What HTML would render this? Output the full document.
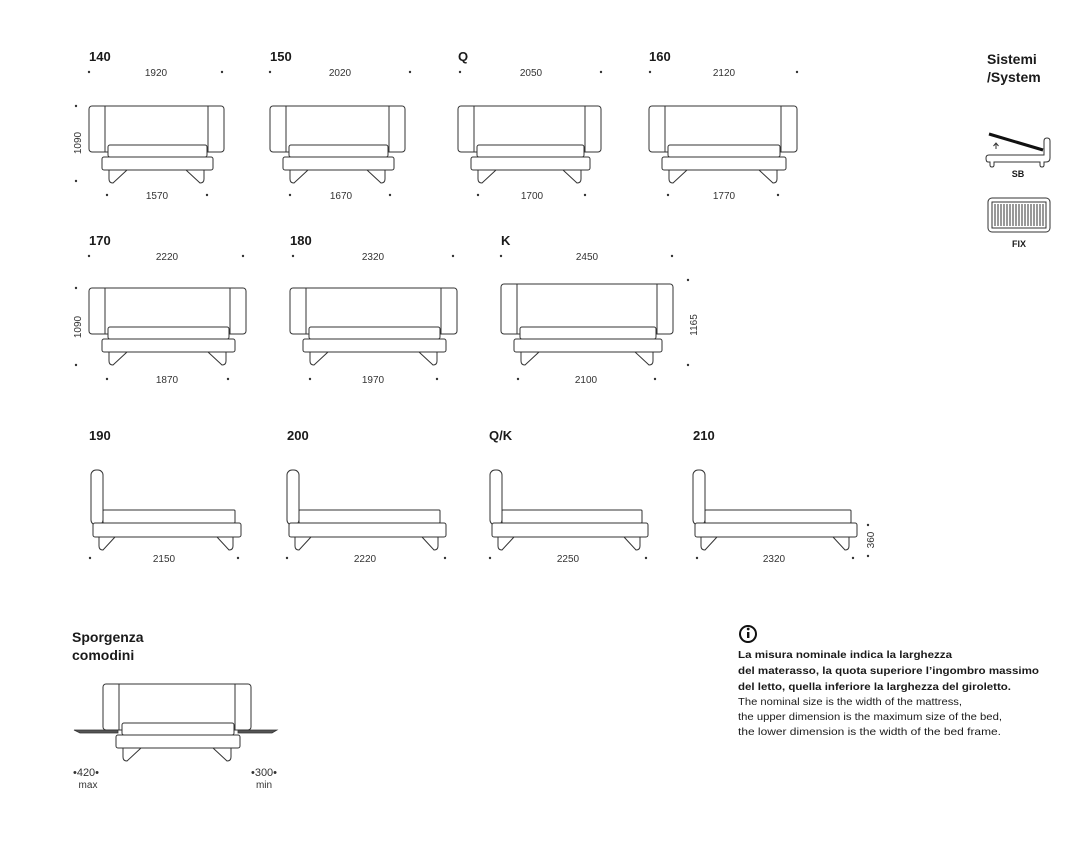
<!DOCTYPE html>
<html><head><meta charset="utf-8"><style>
body{margin:0;background:#fff}
svg{display:block}
text{font-family:"Liberation Sans",sans-serif;fill:#1a1a1a}
.t{font-weight:bold;font-size:13px}
.d{font-size:10px;fill:#333}
.b{fill:#fff;stroke:#333;stroke-width:1}
.l{fill:none;stroke:#333;stroke-width:1}
.dot{fill:#333}
</style></head><body>
<svg width="1083" height="841" viewBox="0 0 1083 841" xmlns="http://www.w3.org/2000/svg">
<!-- Row 1 -->
<text class="t" x="89" y="61">140</text>
<text class="t" x="270" y="61">150</text>
<text class="t" x="458" y="61">Q</text>
<text class="t" x="649" y="61">160</text>
<g class="dot">
<circle cx="89" cy="72" r="1.2"/><circle cx="222" cy="72" r="1.2"/>
<circle cx="270" cy="72" r="1.2"/><circle cx="410" cy="72" r="1.2"/>
<circle cx="460" cy="72" r="1.2"/><circle cx="601" cy="72" r="1.2"/>
<circle cx="650" cy="72" r="1.2"/><circle cx="797" cy="72" r="1.2"/>
<circle cx="107" cy="195" r="1.2"/><circle cx="207" cy="195" r="1.2"/>
<circle cx="290" cy="195" r="1.2"/><circle cx="390" cy="195" r="1.2"/>
<circle cx="478" cy="195" r="1.2"/><circle cx="585" cy="195" r="1.2"/>
<circle cx="668" cy="195" r="1.2"/><circle cx="778" cy="195" r="1.2"/>
<circle cx="76" cy="106" r="1.2"/><circle cx="76" cy="181" r="1.2"/>
</g>
<text class="d" x="156" y="76" text-anchor="middle">1920</text>
<text class="d" x="340" y="76" text-anchor="middle">2020</text>
<text class="d" x="531" y="76" text-anchor="middle">2050</text>
<text class="d" x="724" y="76" text-anchor="middle">2120</text>
<text class="d" x="157" y="199" text-anchor="middle">1570</text>
<text class="d" x="341" y="199" text-anchor="middle">1670</text>
<text class="d" x="532" y="199" text-anchor="middle">1700</text>
<text class="d" x="724" y="199" text-anchor="middle">1770</text>
<text class="d" transform="translate(81,143) rotate(-90)" text-anchor="middle">1090</text>

<!-- 140 -->
<rect class="b" x="89" y="106" width="135" height="46" rx="3"/><path class="l" d="M105,106V152M208,106V152"/>
<rect class="b" x="108" y="145" width="99" height="12" rx="2"/><rect class="b" x="102" y="157" width="111" height="13" rx="2"/>
<path class="l" d="M109,170V179Q109,183 113,183L127,170M204,170V179Q204,183 200,183L186,170"/>
<!-- 150 -->
<rect class="b" x="270" y="106" width="135" height="46" rx="3"/><path class="l" d="M286,106V152M389,106V152"/>
<rect class="b" x="289" y="145" width="99" height="12" rx="2"/><rect class="b" x="283" y="157" width="111" height="13" rx="2"/>
<path class="l" d="M290,170V179Q290,183 294,183L308,170M385,170V179Q385,183 381,183L367,170"/>
<!-- Q -->
<rect class="b" x="458" y="106" width="143" height="46" rx="3"/><path class="l" d="M474,106V152M585,106V152"/>
<rect class="b" x="477" y="145" width="107" height="12" rx="2"/><rect class="b" x="471" y="157" width="119" height="13" rx="2"/>
<path class="l" d="M478,170V179Q478,183 482,183L496,170M581,170V179Q581,183 577,183L563,170"/>
<!-- 160 -->
<rect class="b" x="649" y="106" width="148" height="46" rx="3"/><path class="l" d="M665,106V152M781,106V152"/>
<rect class="b" x="668" y="145" width="112" height="12" rx="2"/><rect class="b" x="662" y="157" width="124" height="13" rx="2"/>
<path class="l" d="M669,170V179Q669,183 673,183L687,170M777,170V179Q777,183 773,183L759,170"/>

<!-- Row 2 -->
<text class="t" x="89" y="245">170</text>
<text class="t" x="290" y="245">180</text>
<text class="t" x="501" y="245">K</text>
<g class="dot">
<circle cx="89" cy="256" r="1.2"/><circle cx="243" cy="256" r="1.2"/>
<circle cx="293" cy="256" r="1.2"/><circle cx="453" cy="256" r="1.2"/>
<circle cx="501" cy="256" r="1.2"/><circle cx="672" cy="256" r="1.2"/>
<circle cx="107" cy="379" r="1.2"/><circle cx="228" cy="379" r="1.2"/>
<circle cx="310" cy="379" r="1.2"/><circle cx="437" cy="379" r="1.2"/>
<circle cx="518" cy="379" r="1.2"/><circle cx="655" cy="379" r="1.2"/>
<circle cx="76" cy="288" r="1.2"/><circle cx="76" cy="365" r="1.2"/>
<circle cx="688" cy="280" r="1.2"/><circle cx="688" cy="365" r="1.2"/>
</g>
<text class="d" x="167" y="260" text-anchor="middle">2220</text>
<text class="d" x="373" y="260" text-anchor="middle">2320</text>
<text class="d" x="587" y="260" text-anchor="middle">2450</text>
<text class="d" x="167" y="383" text-anchor="middle">1870</text>
<text class="d" x="373" y="383" text-anchor="middle">1970</text>
<text class="d" x="586" y="383" text-anchor="middle">2100</text>
<text class="d" transform="translate(81,327) rotate(-90)" text-anchor="middle">1090</text>
<text class="d" transform="translate(697,325) rotate(-90)" text-anchor="middle">1165</text>
<!-- 170 -->
<rect class="b" x="89" y="288" width="157" height="46" rx="3"/><path class="l" d="M105,288V334M230,288V334"/>
<rect class="b" x="108" y="327" width="121" height="12" rx="2"/><rect class="b" x="102" y="339" width="133" height="13" rx="2"/>
<path class="l" d="M109,352V361Q109,365 113,365L127,352M226,352V361Q226,365 222,365L208,352"/>
<!-- 180 -->
<rect class="b" x="290" y="288" width="167" height="46" rx="3"/><path class="l" d="M306,288V334M441,288V334"/>
<rect class="b" x="309" y="327" width="131" height="12" rx="2"/><rect class="b" x="303" y="339" width="143" height="13" rx="2"/>
<path class="l" d="M310,352V361Q310,365 314,365L328,352M437,352V361Q437,365 433,365L419,352"/>
<!-- K -->
<rect class="b" x="501" y="284" width="172" height="50" rx="3"/><path class="l" d="M517,284V334M657,284V334"/>
<rect class="b" x="520" y="327" width="136" height="12" rx="2"/><rect class="b" x="514" y="339" width="148" height="13" rx="2"/>
<path class="l" d="M521,352V361Q521,365 525,365L539,352M653,352V361Q653,365 649,365L635,352"/>

<!-- Row 3 -->
<text class="t" x="89" y="440">190</text>
<text class="t" x="287" y="440">200</text>
<text class="t" x="489" y="440">Q/K</text>
<text class="t" x="693" y="440">210</text>
<g class="dot">
<circle cx="90" cy="558" r="1.2"/><circle cx="238" cy="558" r="1.2"/>
<circle cx="287" cy="558" r="1.2"/><circle cx="445" cy="558" r="1.2"/>
<circle cx="490" cy="558" r="1.2"/><circle cx="646" cy="558" r="1.2"/>
<circle cx="697" cy="558" r="1.2"/><circle cx="853" cy="558" r="1.2"/>
<circle cx="868" cy="525" r="1.2"/><circle cx="868" cy="556" r="1.2"/>
</g>
<text class="d" x="164" y="562" text-anchor="middle">2150</text>
<text class="d" x="365" y="562" text-anchor="middle">2220</text>
<text class="d" x="568" y="562" text-anchor="middle">2250</text>
<text class="d" x="774" y="562" text-anchor="middle">2320</text>
<text class="d" transform="translate(874,540) rotate(-90)" text-anchor="middle">360</text>
<!-- 190 -->
<rect class="b" x="91" y="470" width="12" height="55" rx="5"/><rect class="b" x="103" y="510" width="132" height="13" rx="1"/>
<rect class="b" x="93" y="523" width="148" height="14" rx="2"/>
<path class="l" d="M99,537V546Q99,550 103,550L115,537M233,537V546Q233,550 229,550L217,537"/>
<!-- 200 -->
<rect class="b" x="287" y="470" width="12" height="55" rx="5"/><rect class="b" x="299" y="510" width="141" height="13" rx="1"/>
<rect class="b" x="289" y="523" width="157" height="14" rx="2"/>
<path class="l" d="M295,537V546Q295,550 299,550L311,537M438,537V546Q438,550 434,550L422,537"/>
<!-- Q/K -->
<rect class="b" x="490" y="470" width="12" height="55" rx="5"/><rect class="b" x="502" y="510" width="140" height="13" rx="1"/>
<rect class="b" x="492" y="523" width="156" height="14" rx="2"/>
<path class="l" d="M498,537V546Q498,550 502,550L514,537M640,537V546Q640,550 636,550L624,537"/>
<!-- 210 -->
<rect class="b" x="693" y="470" width="12" height="55" rx="5"/><rect class="b" x="705" y="510" width="146" height="13" rx="1"/>
<rect class="b" x="695" y="523" width="162" height="14" rx="2"/>
<path class="l" d="M701,537V546Q701,550 705,550L717,537M849,537V546Q849,550 845,550L833,537"/>

<!-- Sporgenza -->
<text class="t" x="72" y="642" style="font-size:14px">Sporgenza</text>
<text class="t" x="72" y="660" style="font-size:14px">comodini</text>
<path d="M74,730L118,730L118,733L80,733Z" fill="#555" stroke="#333" stroke-width="0.8"/>
<path d="M238,730L277,730L272,733L238,733Z" fill="#555" stroke="#333" stroke-width="0.8"/>
<rect class="b" x="103" y="684" width="148" height="46" rx="3"/><path class="l" d="M119,684V730M235,684V730"/>
<rect class="b" x="122" y="723" width="112" height="12" rx="2"/><rect class="b" x="116" y="735" width="124" height="13" rx="2"/>
<path class="l" d="M123,748V757Q123,761 127,761L141,748M231,748V757Q231,761 227,761L213,748"/>
<text class="d" x="86" y="776" text-anchor="middle" style="font-size:11px">•420•</text>
<text class="d" x="88" y="788" text-anchor="middle">max</text>
<text class="d" x="264" y="776" text-anchor="middle" style="font-size:11px">•300•</text>
<text class="d" x="264" y="788" text-anchor="middle">min</text>

<!-- Info -->
<circle cx="748" cy="634" r="8" fill="none" stroke="#111" stroke-width="2"/>
<rect x="747" y="632" width="2.4" height="6" fill="#111"/><circle cx="748.2" cy="629" r="1.4" fill="#111"/>
<g style="font-size:10.5px">
<text x="738" y="658" font-weight="bold" textLength="214" lengthAdjust="spacingAndGlyphs">La misura nominale indica la larghezza</text>
<text x="738" y="674" font-weight="bold" textLength="301" lengthAdjust="spacingAndGlyphs">del materasso, la quota superiore l’ingombro massimo</text>
<text x="738" y="690" font-weight="bold" textLength="273" lengthAdjust="spacingAndGlyphs">del letto, quella inferiore la larghezza del giroletto.</text>
<text x="738" y="705" textLength="224" lengthAdjust="spacingAndGlyphs">The nominal size is the width of the mattress,</text>
<text x="738" y="720" textLength="264" lengthAdjust="spacingAndGlyphs">the upper dimension is the maximum size of the bed,</text>
<text x="738" y="735" textLength="263" lengthAdjust="spacingAndGlyphs">the lower dimension is the width of the bed frame.</text>
</g>

<!-- Sistemi -->
<text class="t" x="987" y="64" style="font-size:14px">Sistemi</text>
<text class="t" x="987" y="82" style="font-size:14px">/System</text>
<path d="M989,134L1043,150" stroke="#111" stroke-width="3"/>
<path class="l" d="M996,149V143M993.5,146L996,143L998.5,146"/>
<path class="l" d="M989,155H1044V141Q1044,138 1047,138Q1050,138 1050,141V158Q1050,162 1046,162H1044V165Q1044,167 1042,167Q1040,167 1040,165V162H994V165Q994,167 992,167Q990,167 990,165V162H988Q986,162 986,158Q986,155 989,155Z"/>
<text x="1018" y="177" text-anchor="middle" font-weight="bold" style="font-size:9px">SB</text>
<rect class="l" x="988" y="198" width="62" height="34" rx="4"/>
<rect class="l" x="992" y="202" width="54" height="26"/>
<path class="l" d="M995,204V226M998,204V226M1001,204V226M1004,204V226M1007,204V226M1010,204V226M1013,204V226M1016,204V226M1019,204V226M1022,204V226M1025,204V226M1028,204V226M1031,204V226M1034,204V226M1037,204V226M1040,204V226M1043,204V226"/>
<text x="1019" y="247" text-anchor="middle" font-weight="bold" style="font-size:9px">FIX</text>
</svg>
</body></html>
